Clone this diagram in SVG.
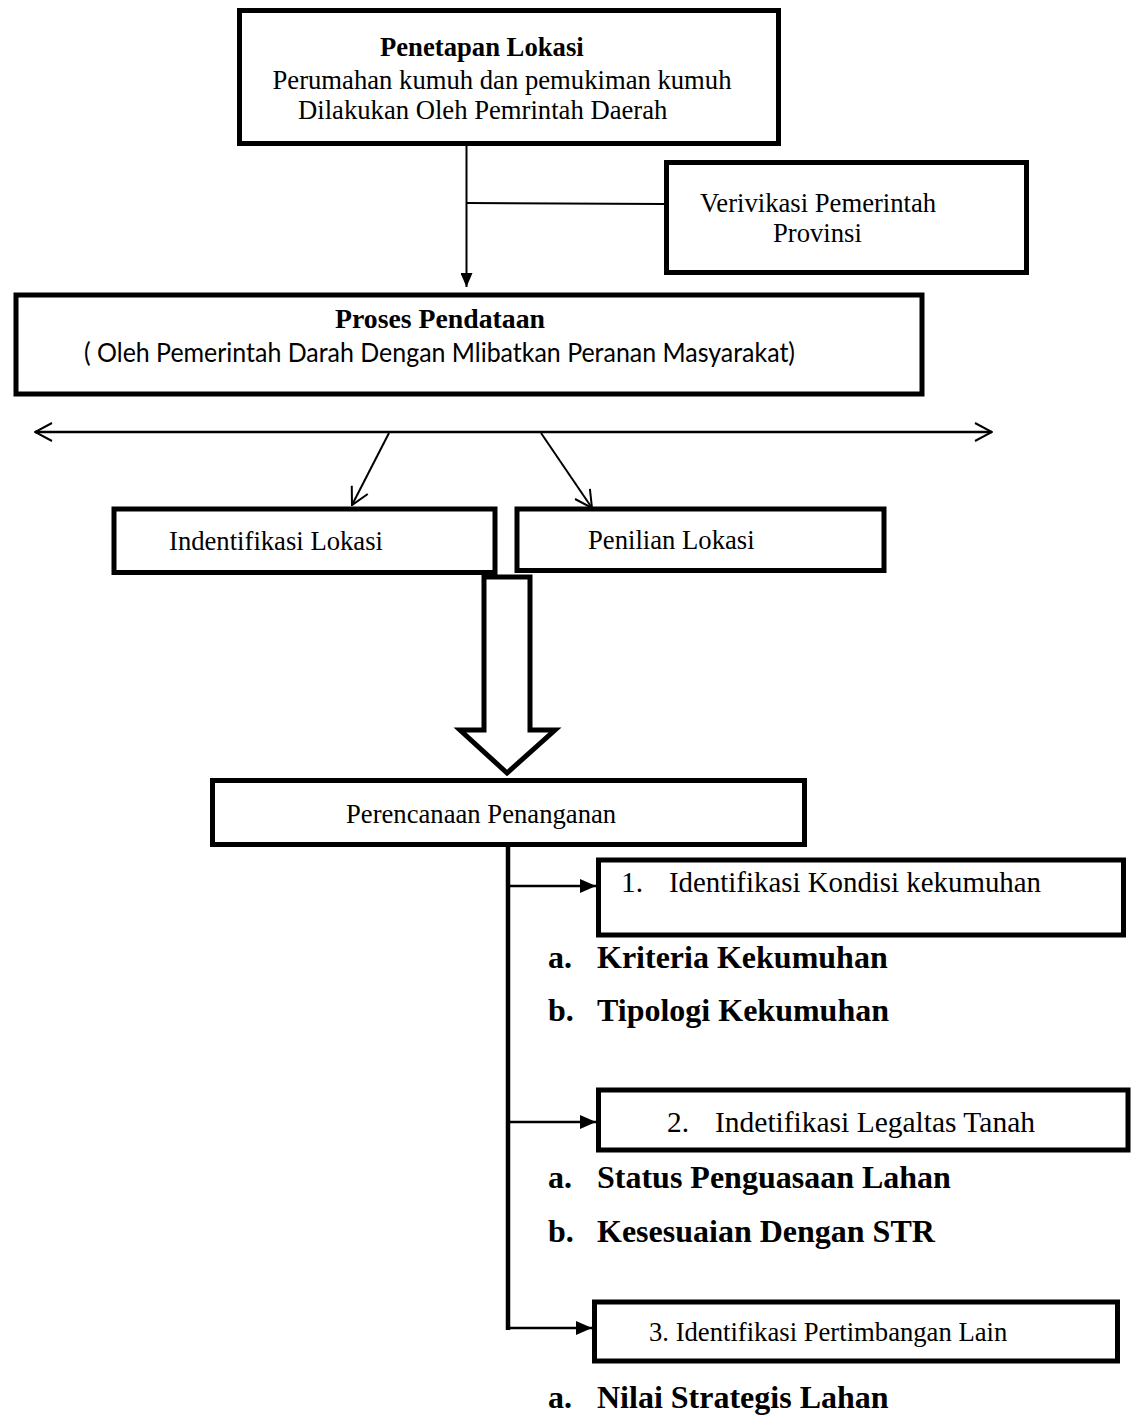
<svg xmlns="http://www.w3.org/2000/svg" width="1131" height="1416" viewBox="0 0 1131 1416">
<defs>
<style>
.box{fill:#fff;stroke:#000;stroke-width:5}
.t{font-family:"Liberation Serif","Times New Roman",serif;font-size:26.67px;fill:#000}
.tb{font-family:"Liberation Serif","Times New Roman",serif;font-size:26.67px;font-weight:bold;fill:#000}
.tm{font-family:"Liberation Serif","Times New Roman",serif;font-size:29.33px;fill:#000}
.big{font-family:"Liberation Serif","Times New Roman",serif;font-size:32px;font-weight:bold;fill:#000}
.sans{font-family:Lato,"Liberation Sans",Arial,sans-serif;font-size:26.67px;fill:#000}
.ln{stroke:#000;fill:none}
</style>
<marker id="open" viewBox="0 0 20 20" refX="19" refY="10" markerWidth="20" markerHeight="20" markerUnits="userSpaceOnUse" orient="auto-start-reverse">
<path d="M2,1 L19,10 L2,19" fill="none" stroke="#000" stroke-width="2"/>
</marker>
<marker id="tri" viewBox="0 0 14 12" refX="14" refY="6" markerWidth="14" markerHeight="12" markerUnits="userSpaceOnUse" orient="auto">
<path d="M0,0 L14,6 L0,12 Z" fill="#000"/>
</marker>
<marker id="tri2" viewBox="0 0 16 14" refX="16" refY="7" markerWidth="16" markerHeight="14" markerUnits="userSpaceOnUse" orient="auto">
<path d="M0,0 L16,7 L0,14 Z" fill="#000"/>
</marker>
</defs>

<g id="connectors">
<line class="ln" x1="466.5" y1="146" x2="466.5" y2="287" stroke-width="2" marker-end="url(#tri)"/>
<line class="ln" x1="467" y1="203" x2="665" y2="204" stroke-width="2"/>
<line class="ln" x1="35" y1="432" x2="992" y2="432" stroke-width="2.5" marker-start="url(#open)" marker-end="url(#open)"/>
<line class="ln" x1="389" y1="433" x2="352" y2="505" stroke-width="2" marker-end="url(#open)"/>
<line class="ln" x1="541" y1="433" x2="592" y2="508" stroke-width="2" marker-end="url(#open)"/>
<polygon id="hollow-arrow" points="484,577 484,730 460,730 507,773 555,730 530,730 530,577" fill="#fff" stroke="#000" stroke-width="5" stroke-linejoin="miter"/>
<line class="ln" x1="508" y1="847" x2="508" y2="1330" stroke-width="4.5"/>
<line class="ln" x1="509" y1="886" x2="596" y2="886" stroke-width="2.5" marker-end="url(#tri2)"/>
<line class="ln" x1="509" y1="1122" x2="596" y2="1122" stroke-width="2.5" marker-end="url(#tri2)"/>
<line class="ln" x1="506" y1="1328" x2="592" y2="1328" stroke-width="2.5" marker-end="url(#tri2)"/>
</g>

<g id="penetapan">
<rect class="box" x="239.5" y="10.5" width="539" height="133"/>
<text class="tb" x="380" y="56">Penetapan Lokasi</text>
<text class="t" x="272.5" y="89">Perumahan kumuh dan pemukiman kumuh</text>
<text class="t" x="298" y="119">Dilakukan Oleh Pemrintah Daerah</text>
</g>

<g id="verivikasi">
<rect class="box" x="666.5" y="162.5" width="360" height="110"/>
<text class="t" x="700" y="212">Verivikasi Pemerintah</text>
<text class="t" x="773" y="242">Provinsi</text>
</g>

<g id="proses">
<rect class="box" x="16" y="295" width="906" height="99" stroke-width="6"/>
<text class="tb" x="335" y="328" font-size="30" textLength="210" lengthAdjust="spacingAndGlyphs">Proses  Pendataan</text>
<text class="sans" x="84" y="362" textLength="711" lengthAdjust="spacingAndGlyphs">( Oleh Pemerintah Darah Dengan Mlibatkan Peranan Masyarakat)</text>
</g>

<g id="indentifikasi">
<rect class="box" x="114" y="509" width="381" height="63.5"/>
<text class="t" x="169" y="550">Indentifikasi Lokasi</text>
</g>

<g id="penilian">
<rect class="box" x="517" y="509" width="367" height="61.5"/>
<text class="t" x="588" y="549">Penilian Lokasi</text>
</g>

<g id="perencanaan">
<rect class="box" x="212.5" y="780.5" width="592" height="64"/>
<text class="t" x="346" y="823">Perencanaan Penanganan</text>
</g>

<g id="kondisi">
<rect class="box" x="598.5" y="860" width="525" height="75" stroke-width="4"/>
<text class="tm" x="621" y="892">1.</text>
<text class="tm" x="669" y="892" textLength="372" lengthAdjust="spacingAndGlyphs">Identifikasi Kondisi kekumuhan</text>
</g>
<g id="kondisi-items">
<text class="big" x="548" y="968">a.</text>
<text class="big" x="597" y="968">Kriteria Kekumuhan</text>
<text class="big" x="548" y="1021">b.</text>
<text class="big" x="597" y="1021">Tipologi Kekumuhan</text>
</g>

<g id="legalitas">
<rect class="box" x="598.5" y="1090" width="529.5" height="60" stroke-width="4"/>
<text class="tm" x="667" y="1132">2.</text>
<text class="tm" x="715" y="1132" textLength="320" lengthAdjust="spacingAndGlyphs">Indetifikasi Legaltas Tanah</text>
</g>
<g id="legalitas-items">
<text class="big" x="548" y="1188">a.</text>
<text class="big" x="597" y="1188">Status Penguasaan Lahan</text>
<text class="big" x="548" y="1242">b.</text>
<text class="big" x="597" y="1242">Kesesuaian Dengan STR</text>
</g>

<g id="pertimbangan">
<rect class="box" x="594.5" y="1302" width="523" height="59" stroke-width="4"/>
<text class="t" x="649" y="1341">3. Identifikasi Pertimbangan Lain</text>
</g>
<g id="pertimbangan-items">
<text class="big" x="548" y="1408">a.</text>
<text class="big" x="597" y="1408">Nilai Strategis Lahan</text>
</g>
</svg>
